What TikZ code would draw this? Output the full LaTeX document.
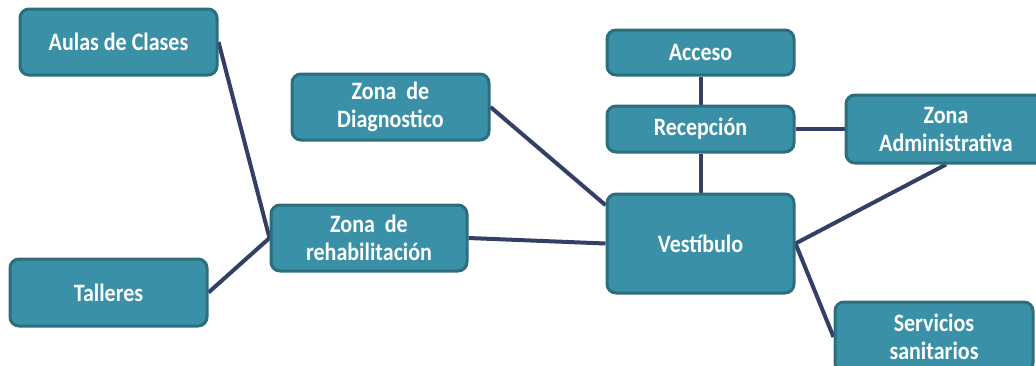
\documentclass[tikz,border=0pt]{standalone}
\usepackage{fontspec}
\setmainfont{Carlito}
\newfontfamily\boxfont[FakeStretch=0.88]{Carlito}
\usetikzlibrary{backgrounds}
\definecolor{boxfill}{HTML}{3A90A6}
\definecolor{boxedge}{HTML}{2C6E7D}
\definecolor{linkc}{HTML}{343F66}
\begin{document}
\begin{tikzpicture}[x=1pt,y=-1pt,
  zbox/.style={draw=boxedge,line width=3pt,fill=boxfill,rounded corners=9pt,
    text=white,align=center,inner sep=0pt,font=\boxfont\bfseries\fontsize{25}{28}\selectfont},
  link/.style={draw=linkc,line width=4pt}]
\useasboundingbox (0,0) rectangle (1036,365);
\clip (0,0) rectangle (1036,365);
\node[zbox,minimum width=197pt,minimum height=66pt] (aulas) at (118.5,42) {Aulas de Clases};
\node[zbox,minimum width=197pt,minimum height=66pt] (diag) at (390.5,107) {Zona\ \ de\\Diagnostico};
\node[zbox,minimum width=196pt,minimum height=66pt] (rehab) at (369,238) {Zona\ \ de\\rehabilitación};
\node[zbox,minimum width=197pt,minimum height=67pt] (talleres) at (108.5,292.5) {Talleres};
\node[zbox,minimum width=187pt,minimum height=45pt] (acceso) at (700.5,52.5) {Acceso};
\node[zbox,minimum width=187pt,minimum height=46pt] (recep) at (700.5,129) {Recepción};
\node[zbox,minimum width=200pt,minimum height=68pt] (admin) at (946,129) {Zona\\Administrativa};
\node[zbox,minimum width=187pt,minimum height=99pt] (vest) at (700.5,243.5) {Vestíbulo};
\node[zbox,minimum width=198pt,minimum height=70pt] (serv) at (934,337) {Servicios\\sanitarios};
\begin{scope}[on background layer]
\draw[link] (aulas.east) -- (rehab.west);
\draw[link] (talleres.east) -- (rehab.west);
\draw[link] (diag.east) -- (vest.158.7);
\draw[link] (rehab.east) -- (vest.west);
\draw[link] (acceso.south) -- (recep.north);
\draw[link] (recep.south) -- (vest.north);
\draw[link] (recep.east) -- (admin.west);
\draw[link] (vest.east) -- (admin.south);
\draw[link] (vest.east) -- (serv.west);
\end{scope}
\end{tikzpicture}
\end{document}
